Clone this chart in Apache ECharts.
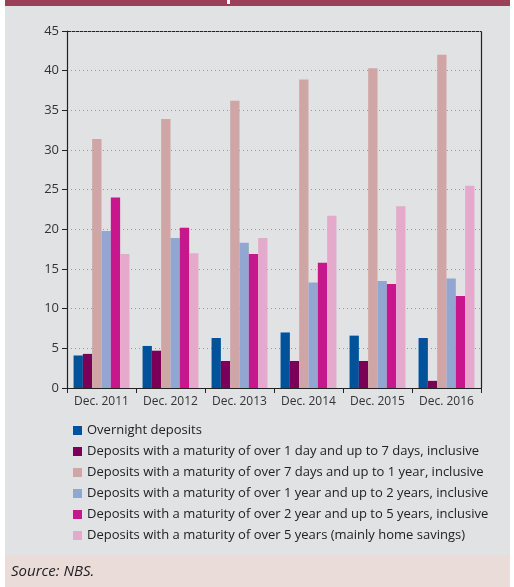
<!DOCTYPE html>
<html>
<head>
<meta charset="utf-8">
<script src="https://cdn.jsdelivr.net/npm/echarts@6/dist/echarts.min.js"></script>
<style>
  html, body { margin: 0; padding: 0; background: #ffffff; }
  #chart { width: 514px; height: 587px; }
</style>
</head>
<body>
<div id="chart"></div>
<script>
// Categories (year-end observations)
const categories = ['Dec. 2011', 'Dec. 2012', 'Dec. 2013', 'Dec. 2014', 'Dec. 2015', 'Dec. 2016'];

// Share of deposits by maturity (%)
const overnight     = [4.1, 5.3, 6.3, 7.0, 6.6, 6.3];
const upTo7Days     = [4.3, 4.7, 3.4, 3.4, 3.4, 0.9];
const upTo1Year     = [31.4, 33.9, 36.2, 38.9, 40.3, 42.0];
const upTo2Years    = [19.8, 18.9, 18.3, 13.3, 13.5, 13.8];
const upTo5Years    = [24.0, 20.2, 16.9, 15.8, 13.1, 11.6];
const over5Years    = [16.9, 17.0, 18.9, 21.7, 22.9, 25.5];

const seriesNames = [
  'Overnight deposits',
  'Deposits with a maturity of over 1 day and up to 7 days, inclusive',
  'Deposits with a maturity of over 7 days and up to 1 year, inclusive',
  'Deposits with a maturity of over 1 year and up to 2 years, inclusive',
  'Deposits with a maturity of over 2 year and up to 5 years, inclusive',
  'Deposits with a maturity of over 5 years (mainly home savings)'
];
const seriesData = [overnight, upTo7Days, upTo1Year, upTo2Years, upTo5Years, over5Years];
const colors = ['#00529b', '#7a0058', '#cfa5a5', '#92a6d2', '#c8168c', '#e5a9cc'];

const yTicks = [0, 5, 10, 15, 20, 25, 30, 35, 40, 45];

const chart = echarts.init(document.getElementById('chart'), null, { renderer: 'canvas' });

const font = '"Open Sans", "Liberation Sans", sans-serif';

chart.setOption({
  backgroundColor: '#ffffff',
  animation: false,
  color: colors,
  textStyle: { fontFamily: font },
  graphic: [
    // panel background
    { type: 'rect', left: 5, top: 0, shape: { width: 505, height: 587 }, style: { fill: '#e1e2e4' }, z: -10 },
    // header strip
    { type: 'rect', left: 5, top: 0, shape: { width: 505, height: 6 }, style: { fill: '#9c3f57' }, z: -5 },
    { type: 'rect', left: 227, top: 0, shape: { width: 3, height: 4 }, style: { fill: '#ffffff' }, z: -4 },
    // source strip
    { type: 'rect', left: 5, top: 555, shape: { width: 505, height: 32 }, style: { fill: '#e9dcd9' }, z: -5 },
    { type: 'text', left: 11, top: 564, style: { text: 'Source: NBS.', font: 'italic 15px ' + font, fill: '#222' } },
    // plot frame: top and right edges
    { type: 'line', shape: { x1: 67, y1: 31.5, x2: 481.5, y2: 31.5 }, style: { stroke: '#222', lineWidth: 1.2 } },
    { type: 'line', shape: { x1: 481.5, y1: 31.5, x2: 481.5, y2: 388 }, style: { stroke: '#222', lineWidth: 1.2 } }
  ],
  legend: {
    orient: 'vertical',
    left: 68,
    top: 419,
    itemWidth: 9,
    itemHeight: 9,
    itemGap: 8,
    icon: 'rect',
    textStyle: { fontSize: 13, color: '#222', fontFamily: font },
    data: seriesNames
  },
  grid: { left: 67, right: 33, top: 31, bottom: 199, containLabel: false },
  xAxis: {
    type: 'category',
    data: categories,
    axisLine: { lineStyle: { color: '#222', width: 1.2 } },
    axisTick: { show: true, length: 5, lineStyle: { color: '#222' } },
    axisLabel: { interval: 0, hideOverlap: false, fontSize: 12, color: '#333', margin: 8 },
    splitLine: { show: false }
  },
  yAxis: {
    type: 'value',
    min: 0, max: 45, interval: 5,
    axisLine: { show: true, lineStyle: { color: '#222', width: 1.2 } },
    axisTick: { show: true, length: 5, lineStyle: { color: '#222' } },
    axisLabel: { fontSize: 13, color: '#333', margin: 8 },
    splitLine: { show: true, lineStyle: { color: '#999', type: [1, 3], width: 1 } }
  },
  series: seriesData.map((d, i) => ({
    name: seriesNames[i],
    type: 'bar',
    data: d,
    barGap: '0%',
    barCategoryGap: '19%',
    itemStyle: { color: colors[i] }
  }))
});
</script>
</body>
</html>
